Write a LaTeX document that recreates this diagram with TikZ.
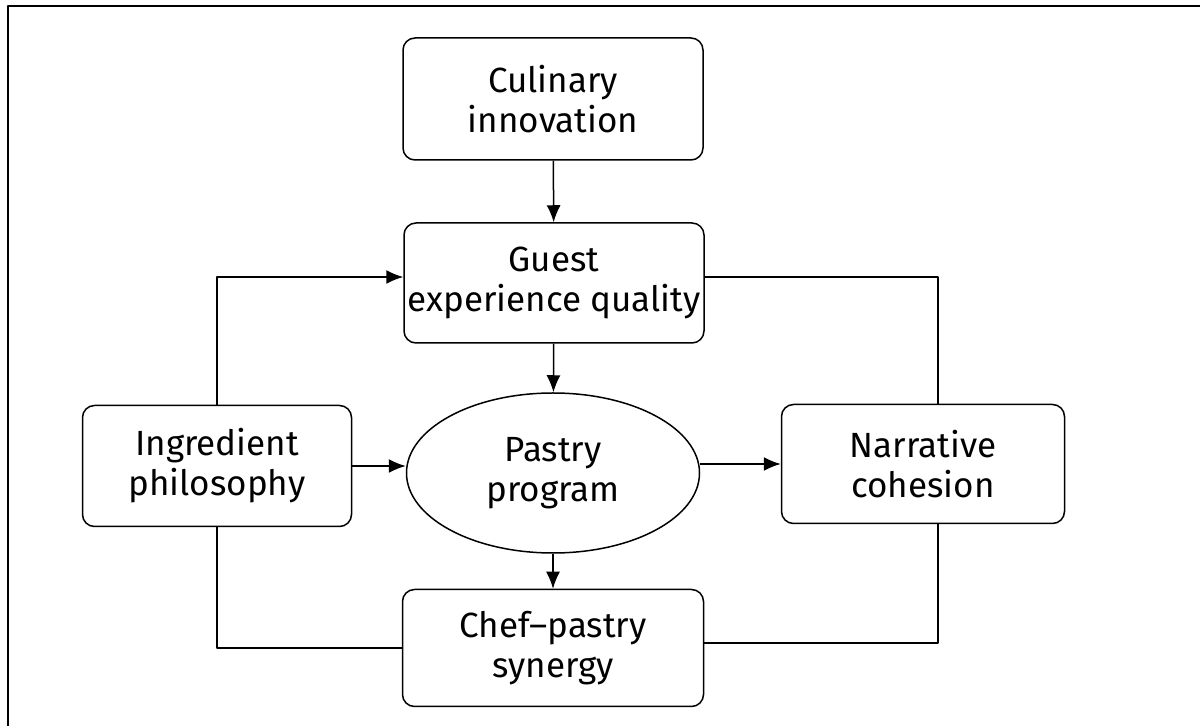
\documentclass[tikz,border=0pt]{standalone}
\usepackage{fontspec}
\setmainfont{Fira Sans}
\usetikzlibrary{shapes.geometric,arrows.meta}

\tikzset{
  box/.style={draw, rounded corners=6pt, align=center, inner sep=0pt},
  oval/.style={draw, ellipse, align=center, inner sep=0pt},
}

\begin{document}
\begin{tikzpicture}[x=0.5pt, y=-0.5pt, font=\fontsize{17.5}{20}\selectfont, line width=0.75pt, line join=round, >={Latex[length=8.5pt,width=7pt]}]
\useasboundingbox (0,0) rectangle (1200,726);
%\draw (0,0) rectangle (1200,726);
\draw[line width=1.1pt] (8,726) -- (8,6) -- (1200,6);
\node[box, minimum width=150pt, minimum height=61pt] (culin) at (553,99) {Culinary\\innovation};
\node[box, minimum width=150pt, minimum height=60pt] (guest) at (554,283) {Guest\\experience quality};
\node[box, minimum width=134.5pt, minimum height=60.5pt] (ingr) at (217,466) {Ingredient\\philosophy};
\node[oval, minimum width=146.5pt, minimum height=80pt] (pastry) at (553,473) {Pastry\\program};
\node[box, minimum width=141.5pt, minimum height=59.5pt] (narr) at (923,464) {Narrative\\cohesion};
\node[box, minimum width=150.5pt, minimum height=58.5pt] (chef) at (553,648) {Chef--pastry\\synergy};
\coordinate (rtop) at (938,277);
\coordinate (rbot) at (938,643);
\draw [->](culin) -- (guest);
\draw [->](guest) -- (pastry);
\draw [->](pastry) -- (chef);
\draw [->](ingr.east) -- (ingr.east -| pastry.west);
\draw [->](pastry.east |- narr.west) -- (narr.west);
\draw [->](ingr.north) |- (rtop -| guest.west);
\draw (ingr.south) |- (chef.west);
\draw (guest.east |- rtop) -- (rtop) -- (rtop |- narr.north);
\draw (rbot |- narr.south) -- (rbot) -- (rbot -| chef.east);
\end{tikzpicture}
\end{document}
